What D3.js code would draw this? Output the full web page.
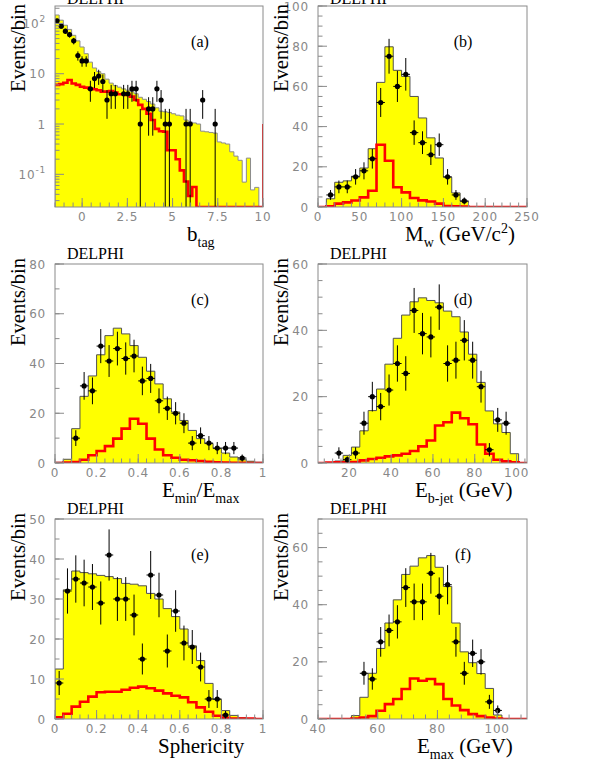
<!DOCTYPE html>
<html>
<head>
<meta charset="utf-8">
<script src="https://cdn.jsdelivr.net/npm/d3@7"></script>
<style>body{margin:0;background:#fff}</style>
</head>
<body>
<svg id="chart" width="599" height="775"></svg>
<script>
/** Histogram contents, one value per bin. MC = total simulation (yellow), sig = signal (red), data = points */
var aMC = [147,116,92,76,58,45,34,25,17,13,11,10,7.8,6.5,5.8,5.4,5.0,4.7,4.4,4.0,3.4,3.1,2.8,2.5,2.1,1.8,1.75,1.7,1.6,1.5,
           1.45,1.2,1.1,1.05,1.0,0.72,0.7,0.68,0.66,0.44,0.42,0.4,0.28,0.23,0.19,0.07,0.21,0.049,0.055,0];
var aSig = [6.0,6.2,6.6,7.5,6.4,6.0,5.5,5.3,5.1,4.9,4.7,4.4,4.4,4.5,4.2,3.9,3.9,3.8,3.5,3.0,2.4,2.0,1.6,1.2,0.8,
            0.72,0.7,0.3,0.3,0.2,0.12,0.072,0.037,0.056,0,0,0,0,0,0,0,0,0,0,0,0,0,0,0,0];
var aData = [113,88,70,60,45,23,18,18,5,8,9,7,3,4,4,0,4,4,5,5,1,0,2,2,5,3,1,1,0,0,0,1,1,0,0,3,0,0,1,0,
             0,0,0,0,0,0,0,0,0,0];

var bMC = [0,4.1,12.3,13,15.3,19.4,29,62,79.7,68,65,55,44.3,34.4,24.4,14.8,7,2.8,0,0,0,0,0,0,0];
var bSig = [0,0.3,1.7,2.3,3.2,4.8,8.1,31,23,9.8,7.3,4.5,3.3,2.7,1.7,0.5,0.3,0.2,0,0,0,0,0,0,0];
var bData = [0,6,10,10,15,18,24,52,75,60,66,37,32,26,31,15,6,3,0,0,0,0,0,0,0];

var cMC = [0.3,1.5,13.8,26.8,35,43.5,51.2,54.2,51.9,47.2,42.5,36.9,31.8,25.8,20.5,17.1,13.1,9.8,7.8,5.8,4,2.4,1.3,0.7,0.3];
var cSig = [0,0.2,0.4,1.3,3.1,4.8,6.8,9.8,13.8,17.8,15.8,9.8,5.4,3.1,2.1,1.3,1.1,0.8,0.5,0.3,0.2,0.1,0.1,0,0];
var cData = [0,0,10,31,29,47,41,46,42,43,33,34,25,22,20,16,8,11,8,6,6,6,2,0,0];

var dMC = [0,0,0.6,2.3,4.8,9.7,15.8,22.3,29.8,37.6,44.6,48.6,49.8,49,48.3,45.8,44.1,39.5,32.8,24.3,15.7,11.8,9.2,2.8,0];
var dSig = [0,0.1,0.2,0.2,0.3,0.8,1.2,1.6,2.0,2.3,2.8,3.6,5.0,6.8,11.3,12.3,15.2,13.5,11.7,5.6,2.8,1.0,0.5,0.2,0];
var dData = [0,0,3,1,3,12,20,17,22,30,27,46,39,38,47,30,31,37,31,23,4,13,12,0,0];

var eMC = [12.5,32.3,37,36.6,36.3,35.9,35.6,35.1,33.9,33.7,33.3,31.4,30,27.6,25.6,22.5,18.3,14.6,8.9,4.9,2.1,0.9,0.3,0.1,0];
var eSig = [0.4,1.3,3.1,4.3,5.6,6.7,6.8,6.8,7.3,7.8,8.1,7.7,7.1,6.4,5.8,5.4,4.2,2.9,1.8,0.8,0.3,0.1,0.1,0.1,0];
var eData = [9,32,35,34,33,29,41,30,30,26,15,36,31,17,27,19,18,13,5,5,1,0,0,0,0];

var fMC = [0,0,0,0,1.2,7.6,16,24.7,33.6,41.7,50.6,53.5,56.4,57.2,53.1,46.4,33.6,23.5,19.7,15.9,10.7,1.4,0,0,0];
var fSig = [0,0,0,0,0.2,0.5,1,2.9,5.2,7,10.5,14.2,13.4,14,12.2,7,4.7,3.1,1.7,1.0,0.5,0.2,0,0,0];
var fData = [0,0,0,0,0,16,14,27,31,34,46,41,41,51,43,47,27,16,23,20,6,3,0,0,0];

/** Tick labels */
var aXTicks = [0,2.5,5,7.5,10],  aYTicks = [0.1,1,10,100];
var bXTicks = [0,50,100,150,200,250], bYTicks = [0,20,40,60,80,100];
var cXTicks = [0,0.2,0.4,0.6,0.8,1], cYTicks = [0,20,40,60,80];
var dXTicks = [20,40,60,80,100], dYTicks = [0,20,40,60];
var eXTicks = [0,0.2,0.4,0.6,0.8,1], eYTicks = [0,10,20,30,40,50];
var fXTicks = [40,60,80,100], fYTicks = [0,20,40,60];

var svg = d3.select("#chart");
var serif = "'Liberation Serif','Times New Roman',serif";
var frameColor = "#8a8a8a";

var panels = [
  {id:"a", left:55, right:263, top:6, bottom:207, bins:[-1.5,0.23], mc:aMC, sig:aSig, data:aData,
   xDomain:[-1.5,10], yDomain:[0.0224,222], log:true, xTicks:aXTicks, yTicks:aYTicks, xMinor:0.5,
   title:[["b"],["tag","sub"]], titleX:187},
  {id:"b", left:318, right:527, top:6, bottom:207, bins:[0,10], mc:bMC, sig:bSig, data:bData,
   xDomain:[0,250], yDomain:[0,100], xTicks:bXTicks, yTicks:bYTicks, xMinor:10, yMinor:5,
   title:[["M"],["w","sub"],[" (GeV/c"],["2","sup"],[")"]], titleX:405},
  {id:"c", left:55, right:263, top:264, bottom:463, bins:[0,0.04], mc:cMC, sig:cSig, data:cData,
   xDomain:[0,1], yDomain:[0,80], xTicks:cXTicks, yTicks:cYTicks, xMinor:0.04, yMinor:10,
   title:[["E"],["min","sub"],["/E"],["max","sub"]], titleX:162},
  {id:"d", left:318, right:527, top:264, bottom:463, bins:[5,4], mc:dMC, sig:dSig, data:dData,
   xDomain:[5,105], yDomain:[0,60], xTicks:dXTicks, yTicks:dYTicks, xMinor:4, yMinor:5,
   title:[["E"],["b-jet","sub"],[" (GeV)"]], titleX:415},
  {id:"e", left:55, right:263, top:519, bottom:719, bins:[0,0.04], mc:eMC, sig:eSig, data:eData,
   xDomain:[0,1], yDomain:[0,50], xTicks:eXTicks, yTicks:eYTicks, xMinor:0.04, yMinor:5,
   title:[["Sphericity"]], titleX:158},
  {id:"f", left:318, right:527, top:519, bottom:719, bins:[40,2.8], mc:fMC, sig:fSig, data:fData,
   xDomain:[40,110], yDomain:[0,70], xTicks:fXTicks, yTicks:fYTicks, xMinor:4, yMinor:5,
   title:[["E"],["max","sub"],[" (GeV)"]], titleX:417}
];

panels.forEach(drawPanel);

function drawPanel(p) {
  var g = svg.append("g");
  var x = d3.scaleLinear().domain(p.xDomain).range([p.left, p.right]);
  var y = p.log
    ? d3.scaleLog().domain(p.yDomain).range([p.bottom, p.top]).clamp(true)
    : d3.scaleLinear().domain(p.yDomain).range([p.bottom, p.top]);
  var floor = p.log ? p.yDomain[0] / 10 : 0;
  var yv = function(v) { return y(Math.max(v, floor)); };
  var n = p.mc.length;
  var edge = function(i) { return p.bins[0] + p.bins[1] * i; };

  g.append("clipPath").attr("id", "clip" + p.id)
    .append("rect").attr("x", p.left).attr("y", p.top)
    .attr("width", p.right - p.left).attr("height", p.bottom - p.top);
  var plot = g.append("g").attr("clip-path", "url(#clip" + p.id + ")");

  // step points: start at bottom, one per bin, close at bottom
  function steps(vals, closed) {
    var pts = vals.map(function(v, i) { return [edge(i), v]; });
    pts.push([edge(n), vals[n - 1]]);
    if (closed) { pts.unshift([edge(0), 0]); pts.push([edge(n), 0]); }
    return pts;
  }

  var area = d3.area().curve(d3.curveStepAfter)
    .x(function(d) { return x(d[0]); }).y0(p.bottom).y1(function(d) { return yv(d[1]); });
  var line = d3.line().curve(d3.curveStepAfter)
    .x(function(d) { return x(d[0]); }).y(function(d) { return yv(d[1]); });

  plot.append("path").attr("d", area(steps(p.mc, true))).attr("fill", "#ffff00");
  plot.append("path").attr("d", line(steps(p.mc, true)))
    .attr("fill", "none").attr("stroke", p.log ? "#8c8c8c" : "#505050").attr("stroke-width", 1);
  plot.append("path").attr("d", line(steps(p.sig, !p.log)))
    .attr("fill", "none").attr("stroke", "#ff0000").attr("stroke-width", 2.6);
  if (p.log) {
    plot.append("line").attr("x1", x(10)).attr("x2", x(10)).attr("y1", y(1)).attr("y2", p.bottom)
      .attr("stroke", "#ff0000").attr("stroke-width", 2);
  }

  // data points with sqrt(N) errors
  var pts = p.data.map(function(v, i) { return {c: edge(i) + p.bins[1] / 2, v: v}; })
    .filter(function(d) { return d.v > 0; });
  var pg = plot.append("g").attr("stroke", "#000").attr("stroke-width", 1);
  pg.selectAll("line.v").data(pts).enter().append("line")
    .attr("x1", function(d) { return x(d.c); }).attr("x2", function(d) { return x(d.c); })
    .attr("y1", function(d) { return yv(d.v - Math.sqrt(d.v)); })
    .attr("y2", function(d) { return yv(d.v + Math.sqrt(d.v)); });
  pg.selectAll("line.h").data(pts).enter().append("line")
    .attr("x1", function(d) { return x(d.c - p.bins[1] / 2); })
    .attr("x2", function(d) { return x(d.c + p.bins[1] / 2); })
    .attr("y1", function(d) { return yv(d.v); }).attr("y2", function(d) { return yv(d.v); });
  plot.selectAll("circle").data(pts).enter().append("circle")
    .attr("cx", function(d) { return x(d.c); }).attr("cy", function(d) { return yv(d.v); })
    .attr("r", 2.6).attr("fill", "#000");

  // frame
  g.append("rect").attr("x", p.left).attr("y", p.top)
    .attr("width", p.right - p.left).attr("height", p.bottom - p.top)
    .attr("fill", "none").attr("stroke", frameColor).attr("stroke-width", 1);

  var tk = g.append("g").attr("stroke", frameColor).attr("stroke-width", 1);
  // x ticks (inward)
  var xm = d3.range(Math.ceil(p.xDomain[0] / p.xMinor - 1e-6), Math.floor(p.xDomain[1] / p.xMinor + 1e-6) + 1)
    .map(function(k) { return k * p.xMinor; });
  tk.selectAll("line.xm").data(xm).enter().append("line")
    .attr("x1", function(d) { return x(d); }).attr("x2", function(d) { return x(d); })
    .attr("y1", p.bottom).attr("y2", p.bottom - 4.5);
  tk.selectAll("line.xM").data(p.xTicks).enter().append("line")
    .attr("x1", function(d) { return x(d); }).attr("x2", function(d) { return x(d); })
    .attr("y1", p.bottom).attr("y2", p.bottom - 9);
  // y ticks
  var ym;
  if (p.log) {
    ym = [];
    d3.range(-2, 3).forEach(function(dec) {
      d3.range(2, 10).forEach(function(k) {
        var v = k * Math.pow(10, dec);
        if (v > p.yDomain[0] && v < p.yDomain[1]) ym.push(v);
      });
    });
  } else {
    ym = d3.range(0, p.yDomain[1] + 1e-6, p.yMinor);
  }
  tk.selectAll("line.ym").data(ym).enter().append("line")
    .attr("x1", p.left).attr("x2", p.left + 4.5)
    .attr("y1", function(d) { return y(d); }).attr("y2", function(d) { return y(d); });
  tk.selectAll("line.yM").data(p.yTicks).enter().append("line")
    .attr("x1", p.left).attr("x2", p.left + 9)
    .attr("y1", function(d) { return y(d); }).attr("y2", function(d) { return y(d); });

  // tick labels
  var lab = g.append("g").attr("fill", "#888").attr("font-family", "'DejaVu Sans',sans-serif")
    .attr("font-size", 12).attr("letter-spacing", 0.8);
  lab.selectAll("text.x").data(p.xTicks).enter().append("text")
    .attr("x", function(d) { return x(d); }).attr("y", p.bottom + 14)
    .attr("text-anchor", "middle").text(function(d) { return d; });
  var yl = lab.selectAll("text.y").data(p.yTicks).enter().append("text")
    .attr("x", p.left - 9).attr("y", function(d) { return y(d) + 4.5; })
    .attr("text-anchor", "end");
  if (p.log) {
    yl.each(function(d) {
      var t = d3.select(this), e = Math.round(Math.log10(d));
      if (e === 0) { t.text("1"); return; }
      if (e === 1) { t.text("10"); return; }
      t.append("tspan").text("10");
      t.append("tspan").attr("dy", -6).attr("font-size", 9).text(e);
    });
  } else {
    yl.text(function(d) { return d; });
  }

  // axis title, y title, DELPHI, panel tag
  var tt = g.append("text").attr("x", p.titleX).attr("y", p.bottom + 34)
    .attr("font-family", serif).attr("font-size", 21).attr("fill", "#000");
  var shift = 0;
  p.title.forEach(function(part) {
    var target = part[1] === "sub" ? 6 : part[1] === "sup" ? -8 : 0;
    var ts = tt.append("tspan").attr("dy", target - shift).text(part[0]);
    if (part[1]) ts.attr("font-size", 14);
    shift = target;
  });

  g.append("text").attr("transform", "translate(" + (p.left - 30) + "," + Math.max(p.top - 6, 4) + ") rotate(-90)")
    .attr("text-anchor", "end").attr("font-family", serif).attr("font-size", 22)
    .attr("textLength", 88).attr("lengthAdjust", "spacingAndGlyphs")
    .attr("fill", "#000").text("Events/bin");

  g.append("text").attr("x", p.left + 12).attr("y", p.top === 6 ? 4 : p.top - 5)
    .attr("font-family", serif).attr("font-size", 16).attr("fill", "#000").text("DELPHI");

  g.append("text").attr("x", p.left + 145).attr("y", p.top + 41).attr("text-anchor", "middle")
    .attr("font-family", serif).attr("font-size", 16).attr("fill", "#000").text("(" + p.id + ")");
}
</script>
</body>
</html>
